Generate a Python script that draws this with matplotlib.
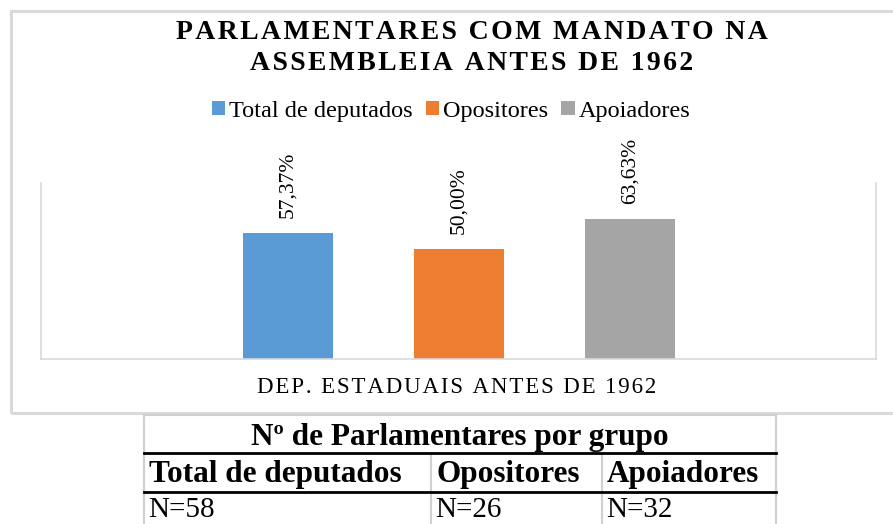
import matplotlib
matplotlib.use('Agg')
import matplotlib.pyplot as plt
from matplotlib.patches import Rectangle, Patch
from matplotlib.lines import Line2D

# dados
series = ['Total de deputados', 'Opositores', 'Apoiadores']
percent = [57.37, 50.00, 63.63]
counts = [58, 26, 32]
colors = ['#5b9bd5', '#ed7d31', '#a5a5a5']
title_lines = ['PARLAMENTARES COM MANDATO NA', 'ASSEMBLEIA ANTES DE 1962']
xlabel = 'DEP. ESTADUAIS ANTES DE 1962'
table_title = 'Nº de Parlamentares por grupo'

plt.rcParams['font.family'] = ['Liberation Serif', 'DejaVu Serif']

W, H = 893, 524
fig = plt.figure(figsize=(W / 100, H / 100), dpi=100)


def fx(x):
    return x / W


def fy(y):
    return 1 - y / H


def spaced(s, sep='\u200a'):
    # espaçamento entre letras como no Excel
    return sep.join(s)


# moldura do gráfico
fig.add_artist(Rectangle((fx(11), fy(413)), fx(900) - fx(11), fy(11) - fy(413),
                         transform=fig.transFigure, fill=False,
                         edgecolor='#d9d9d9', linewidth=2.2))

# título
fig.text(fx(472), fy(39), spaced(title_lines[0]), ha='center', va='baseline',
         fontsize=20, fontweight='bold')
fig.text(fx(472), fy(70), spaced(title_lines[1]), ha='center', va='baseline',
         fontsize=20, fontweight='bold')

# eixo
ax = fig.add_axes([fx(41), fy(359), fx(876) - fx(41), fy(183) - fy(359)])
xs = list(range(len(series)))
ax.bar(xs, percent, width=0.526, color=colors)
for x, v in zip(xs, percent):
    ax.annotate(f'{v:.2f}%'.replace('.', ','), xy=(x, v), xytext=(0, 11),
                textcoords='offset points', rotation=90, ha='center',
                va='bottom', fontsize=15.5)
ax.set_xlim(-1.444, 3.439)
ax.set_ylim(0, 80)
ax.set_xticks([])
ax.set_yticks([])
for side in ['left', 'right', 'bottom']:
    ax.spines[side].set_color('#d9d9d9')
    ax.spines[side].set_linewidth(1.2)
ax.spines['top'].set_visible(False)

fig.text(fx(457), fy(393), spaced(xlabel), ha='center', va='baseline',
         fontsize=16.5)

# legenda
handles = [Patch(facecolor=c, edgecolor='none') for c in colors]
fig.legend(handles, series, loc='center', bbox_to_anchor=(fx(451), fy(111)),
           ncol=3, frameon=False, fontsize=17.5, handlelength=0.55,
           handleheight=0.55, handletextpad=0.15, columnspacing=0.55,
           borderpad=0)

# tabela
tl, tr = 144, 776
col_x = [tl, 431, 602]
gray = '#d0d0d0'


def hline(y, x0, x1, color, lw):
    fig.add_artist(Line2D([fx(x0), fx(x1)], [fy(y), fy(y)],
                          transform=fig.transFigure, color=color, linewidth=lw))


def vline(x, y0, y1, color, lw):
    fig.add_artist(Line2D([fx(x), fx(x)], [fy(y0), fy(y1)],
                          transform=fig.transFigure, color=color, linewidth=lw))


hline(415, tl, tr, gray, 1.5)
vline(tl, 415, 530, gray, 1.5)
vline(tr, 415, 530, gray, 1.5)
for cx in col_x[1:]:
    vline(cx, 453, 530, gray, 1.5)
hline(453, tl, tr, 'black', 2.0)
hline(492, tl, tr, 'black', 2.0)

fig.text(fx((tl + tr) / 2), fy(445), table_title, ha='center', va='baseline',
         fontsize=22.5, fontweight='bold')
for cx, name, n in zip(col_x, series, counts):
    fig.text(fx(cx + 5), fy(482), name, ha='left', va='baseline',
             fontsize=22.5, fontweight='bold')
    fig.text(fx(cx + 4), fy(517), f'N={n}', ha='left', va='baseline',
             fontsize=21)

fig.savefig('out.png', dpi=100)
